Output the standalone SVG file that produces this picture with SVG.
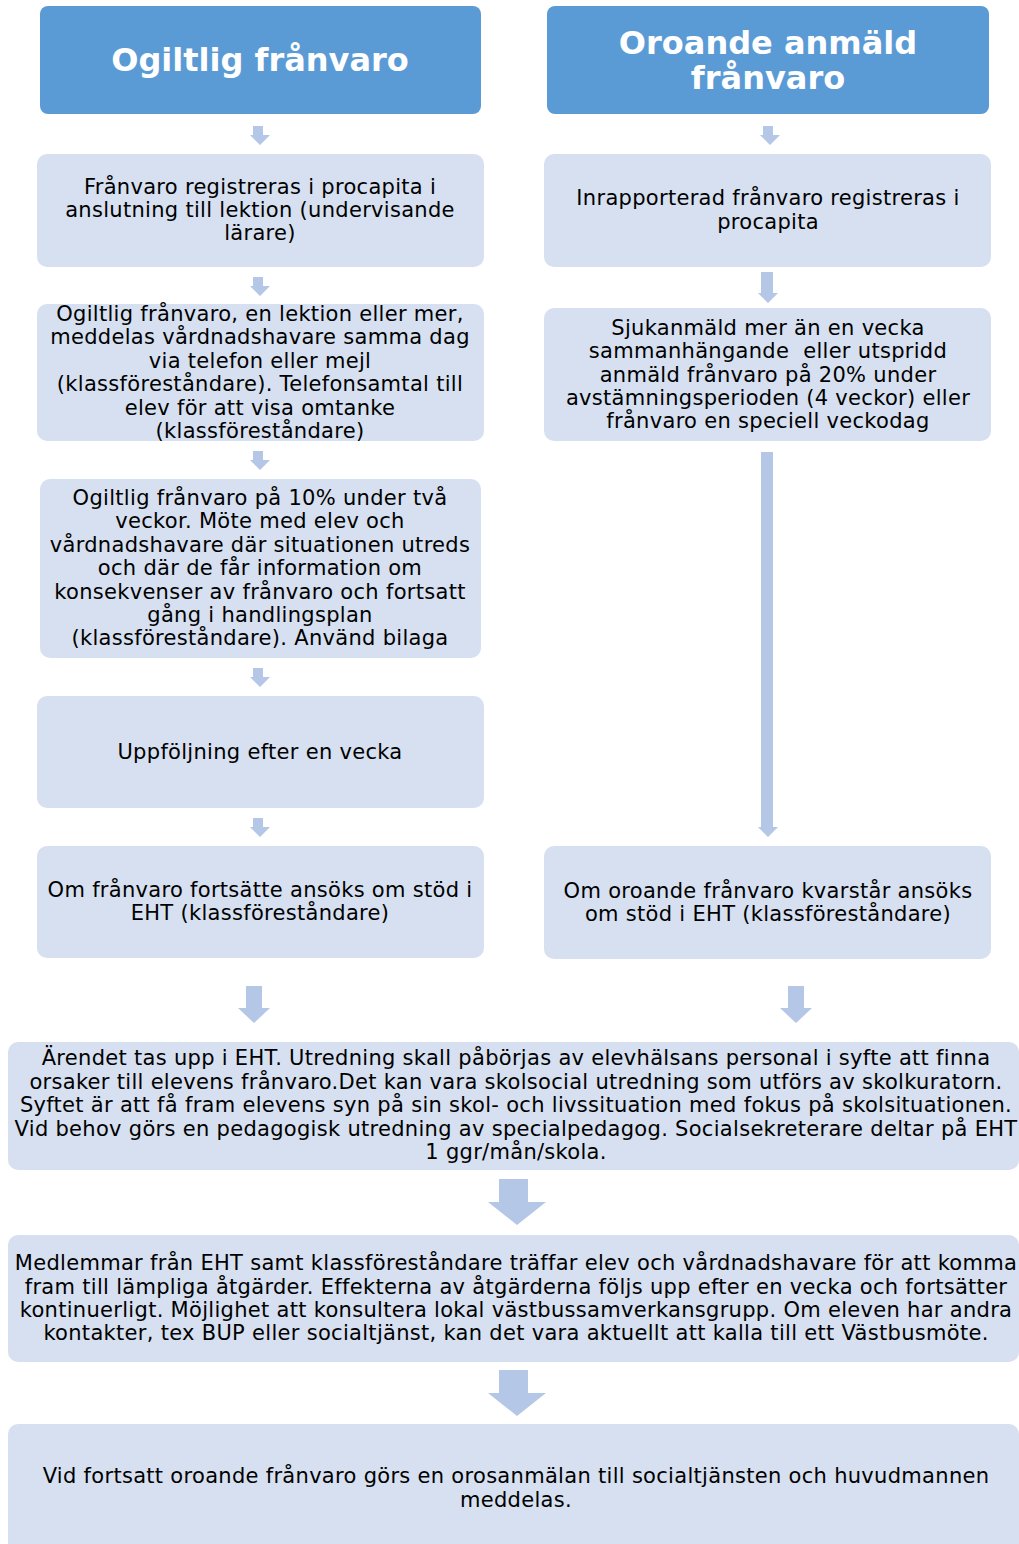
<svg xmlns="http://www.w3.org/2000/svg" width="1019" height="1544" viewBox="0 0 1019 1544">
<defs>
<style>
.hdr{fill:#5b9bd5;}
.box{fill:#d6e0f0;}
.arr{fill:#b4c7e7;}
text{font-family:"DejaVu Sans","Verdana",sans-serif;font-size:21px;letter-spacing:0.3px;fill:#000;text-anchor:middle;}
.ht{font-weight:bold;font-size:32px;letter-spacing:0;fill:#fff;}
</style>
</defs>
<rect width="1019" height="1544" fill="#fff"/>
<g id="connectors">
<path class="arr" d="M253,126 h10 v9 h7 l-10,10 l-10,-10 h3z"/>
<path class="arr" d="M253,277 h10 v9 h7 l-10,10 l-10,-10 h3z"/>
<path class="arr" d="M253,451 h10 v9 h7 l-10,10 l-10,-10 h3z"/>
<path class="arr" d="M253,668 h10 v9 h7 l-10,10 l-10,-10 h3z"/>
<path class="arr" d="M253,818 h10 v9 h7 l-10,10 l-10,-10 h3z"/>
<path class="arr" d="M763,126 h10 v9 h7 l-10,10 l-10,-10 h3z"/>
<path class="arr" d="M761,272 h12 v21 h5 l-10,10 l-10,-10 h3z"/>
<path class="arr" d="M761,452 h12 v375 h5 l-10,10 l-10,-10 h3z"/>
<path class="arr" d="M246,986 h16 v22 h8 l-16,15 l-16,-15 h8z"/>
<path class="arr" d="M788,986 h16 v22 h8 l-16,15 l-16,-15 h8z"/>
<path class="arr" d="M499,1179 h29 v23 h18 l-29,23 l-29,-23 h11z"/>
<path class="arr" d="M499,1370 h29 v23 h18 l-29,23 l-29,-23 h11z"/>
</g>
<g id="h1"><rect class="hdr" x="40" y="6" width="441" height="108" rx="8"/><text class="ht" x="260" y="71">Ogiltlig frånvaro</text></g>
<g id="h2"><rect class="hdr" x="547" y="6" width="442" height="108" rx="8"/><text class="ht" x="768" y="54"><tspan x="768" y="54">Oroande anmäld</tspan><tspan x="768" y="89">frånvaro</tspan></text></g>
<g id="l1"><rect class="box" x="37" y="154" width="447" height="113" rx="10"/>
<text x="260" y="194">Frånvaro registreras i procapita i</text>
<text x="260" y="217">anslutning till lektion (undervisande</text>
<text x="260" y="240">lärare)</text></g>
<g id="l2"><rect class="box" x="37" y="304" width="447" height="137" rx="10"/>
<text x="260" y="321">Ogiltlig frånvaro, en lektion eller mer,</text>
<text x="260" y="344">meddelas vårdnadshavare samma dag</text>
<text x="260" y="368">via telefon eller mejl</text>
<text x="260" y="391">(klassföreståndare). Telefonsamtal till</text>
<text x="260" y="415">elev för att visa omtanke</text>
<text x="260" y="438">(klassföreståndare)</text></g>
<g id="l3"><rect class="box" x="40" y="479" width="441" height="179" rx="10"/>
<text x="260" y="505">Ogiltlig frånvaro på 10% under två</text>
<text x="260" y="528">veckor. Möte med elev och</text>
<text x="260" y="552">vårdnadshavare där situationen utreds</text>
<text x="260" y="575">och där de får information om</text>
<text x="260" y="599">konsekvenser av frånvaro och fortsatt</text>
<text x="260" y="622">gång i handlingsplan</text>
<text x="260" y="645">(klassföreståndare). Använd bilaga</text></g>
<g id="l4"><rect class="box" x="37" y="696" width="447" height="112" rx="10"/>
<text x="260" y="759">Uppföljning efter en vecka</text></g>
<g id="l5"><rect class="box" x="37" y="846" width="447" height="112" rx="10"/>
<text x="260" y="897">Om frånvaro fortsätte ansöks om stöd i</text>
<text x="260" y="920">EHT (klassföreståndare)</text></g>
<g id="r1"><rect class="box" x="544" y="154" width="447" height="113" rx="10"/>
<text x="768" y="205">Inrapporterad frånvaro registreras i</text>
<text x="768" y="229">procapita</text></g>
<g id="r2"><rect class="box" x="544" y="308" width="447" height="133" rx="10"/>
<text x="768" y="335">Sjukanmäld mer än en vecka</text>
<text x="768" y="358" xml:space="preserve">sammanhängande  eller utspridd</text>
<text x="768" y="382">anmäld frånvaro på 20% under</text>
<text x="768" y="405">avstämningsperioden (4 veckor) eller</text>
<text x="768" y="428">frånvaro en speciell veckodag</text></g>
<g id="r3"><rect class="box" x="544" y="846" width="447" height="113" rx="10"/>
<text x="768" y="898">Om oroande frånvaro kvarstår ansöks</text>
<text x="768" y="921">om stöd i EHT (klassföreståndare)</text></g>
<g id="w1"><rect class="box" x="8" y="1042" width="1011" height="128" rx="10"/>
<text x="516" y="1065">Ärendet tas upp i EHT. Utredning skall påbörjas av elevhälsans personal i syfte att finna</text>
<text x="516" y="1089">orsaker till elevens frånvaro.Det kan vara skolsocial utredning som utförs av skolkuratorn.</text>
<text x="516" y="1112">Syftet är att få fram elevens syn på sin skol- och livssituation med fokus på skolsituationen.</text>
<text x="516" y="1136">Vid behov görs en pedagogisk utredning av specialpedagog. Socialsekreterare deltar på EHT</text>
<text x="516" y="1159">1 ggr/mån/skola.</text></g>
<g id="w2"><rect class="box" x="8" y="1235" width="1011" height="127" rx="10"/>
<text x="516" y="1270">Medlemmar från EHT samt klassföreståndare träffar elev och vårdnadshavare för att komma</text>
<text x="516" y="1294">fram till lämpliga åtgärder. Effekterna av åtgärderna följs upp efter en vecka och fortsätter</text>
<text x="516" y="1317">kontinuerligt. Möjlighet att konsultera lokal västbussamverkansgrupp. Om eleven har andra</text>
<text x="516" y="1340">kontakter, tex BUP eller socialtjänst, kan det vara aktuellt att kalla till ett Västbusmöte.</text></g>
<g id="w3"><rect class="box" x="8" y="1424" width="1011" height="130" rx="10"/>
<text x="516" y="1483">Vid fortsatt oroande frånvaro görs en orosanmälan till socialtjänsten och huvudmannen</text>
<text x="516" y="1507">meddelas.</text></g>
</svg>
